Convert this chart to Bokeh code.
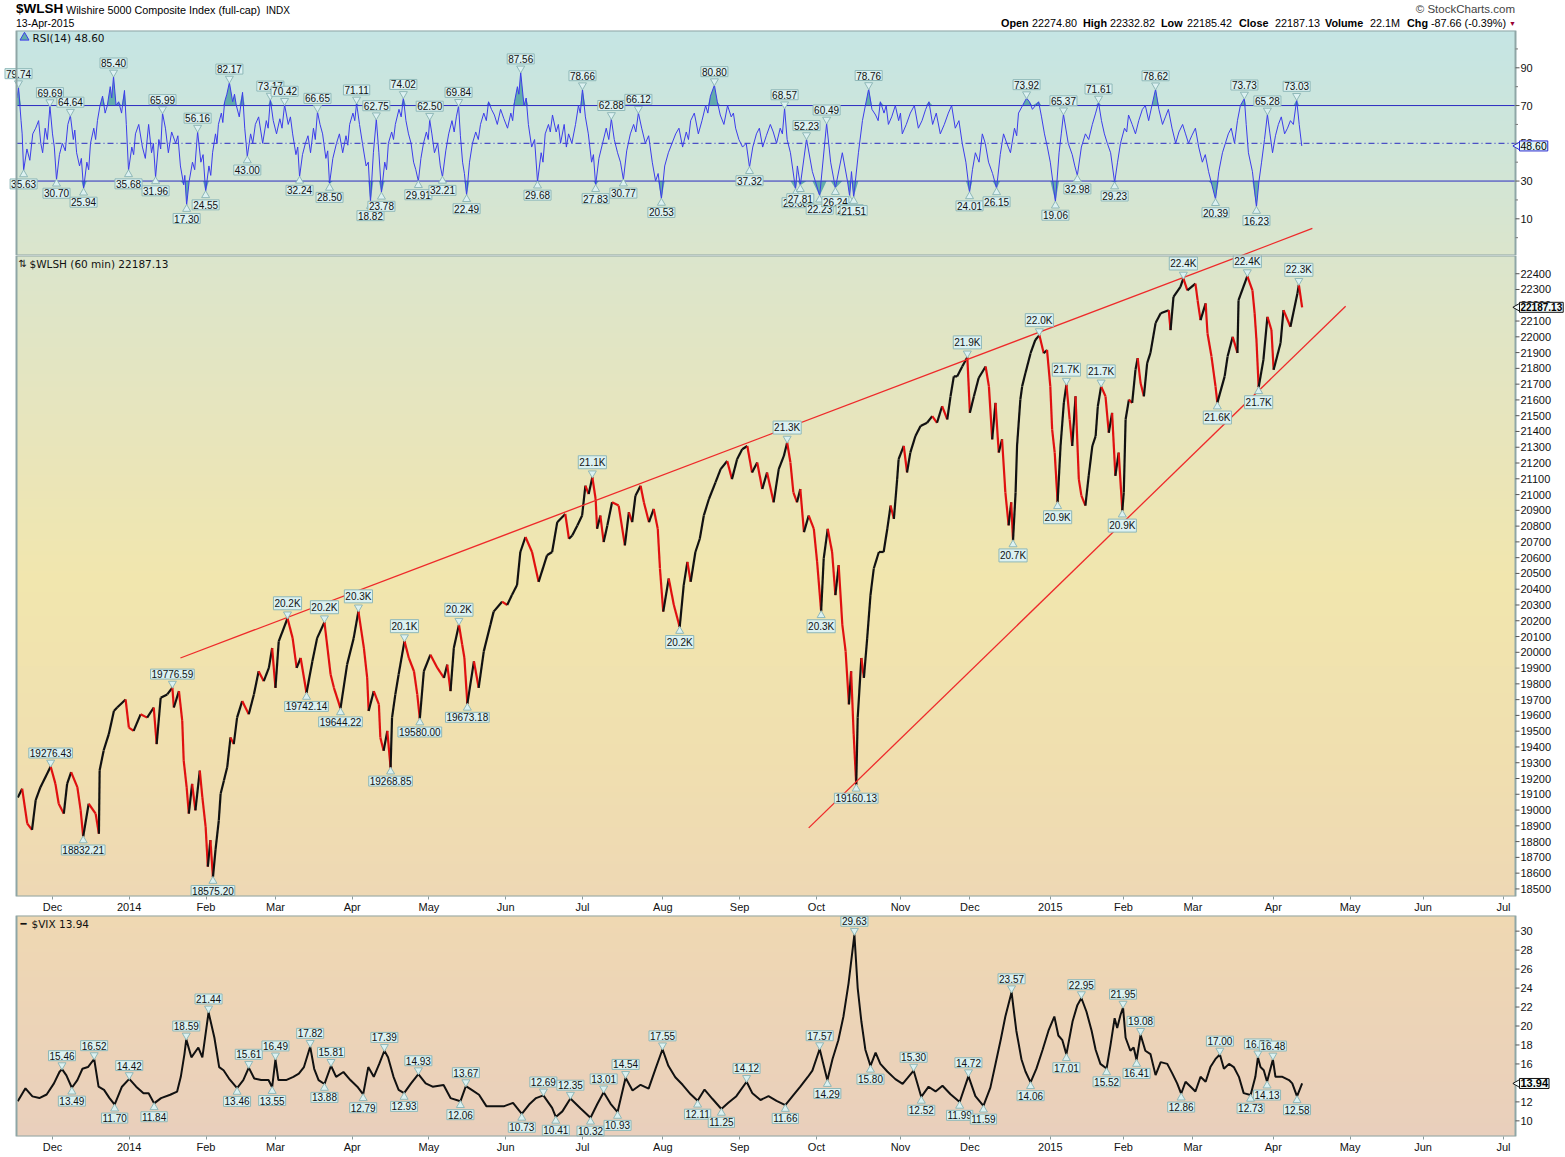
import numpy as np
import pandas as pd
from bokeh.plotting import figure
from bokeh.layouts import column
from bokeh.models import Range1d, FixedTicker, Label, Div
from bokeh.embed import file_html
from bokeh.resources import INLINE
from bokeh.core.properties import value

# ------------------------------------------------------------------ data
SESSION_START = "2013-11-18"          # trading-day 0
HOLIDAYS = ["2013-11-28", "2013-12-25", "2014-01-01", "2014-01-20", "2014-02-17",
            "2014-04-18", "2014-05-26", "2014-07-04", "2014-09-01", "2014-11-27",
            "2014-12-25", "2015-01-01", "2015-01-19", "2015-02-16", "2015-04-03",
            "2015-05-25", "2015-07-03"]
MONTH_STARTS = ["2013-12-01", "2014-01-01", "2014-02-01", "2014-03-01", "2014-04-01",
                "2014-05-01", "2014-06-01", "2014-07-01", "2014-08-01", "2014-09-01",
                "2014-10-01", "2014-11-01", "2014-12-01", "2015-01-01", "2015-02-01",
                "2015-03-01", "2015-04-01", "2015-05-01", "2015-06-01", "2015-07-01"]
MONTH_LABELS = ["Dec", "2014", "Feb", "Mar", "Apr", "May", "Jun", "Jul", "Aug", "Sep",
                "Oct", "Nov", "Dec", "2015", "Feb", "Mar", "Apr", "May", "Jun", "Jul"]

RSI_TICKS = [10, 30, 50, 70, 90]
RSI_MINOR = [0, 20, 40, 60, 80, 100]
PRICE_TICKS = list(range(18500, 22401, 100))
VIX_TICKS = list(range(10, 31, 2))

# $WLSH 60-min path (trading days since SESSION_START, index level)
price_t = [-0.5, 0.7, 2.1, 3.4, 4.4, 5.7, 8.5, 9.8, 10.7, 12.1,
           13.0, 14.1, 15.8, 16.7, 17.4, 18.9, 20.8, 21.7, 21.9, 23.0,
           24.4, 25.8, 26.7, 29.0, 29.9, 31.2, 33.1, 34.9, 36.7, 37.5,
           38.6, 40.4, 41.8, 42.2, 43.6, 44.5, 44.9, 45.7, 46.3, 47.2,
           48.1, 49.3, 50.0, 50.9, 51.5, 52.2, 52.9, 53.6, 54.5, 55.0,
           55.9, 56.8, 57.7, 58.6, 59.5, 60.9, 62.7, 64.1, 65.4, 66.8,
           68.2, 69.1, 70.0, 70.9, 73.3, 74.7, 75.8, 76.9, 78.5, 80.1,
           81.4, 83.4, 85.1, 86.0, 87.8, 89.6, 91.4, 92.7, 94.2, 95.1,
           95.5, 96.9, 98.3, 98.7, 99.6, 100.6, 101.5, 101.9, 102.8, 103.7,
           105.3, 106.5, 107.9, 108.8, 109.5, 110.6, 112.4, 114.3, 116.1, 117.0,
           117.9, 118.8, 120.2, 121.1, 121.7, 122.5, 124.3, 125.6, 127.0, 128.8,
           129.7, 132.0, 133.4, 134.7, 136.1, 137.0, 138.4, 140.2, 142.0, 144.3,
           145.7, 147.1, 149.3, 150.3, 151.2, 152.6, 153.9, 154.8, 155.7, 156.7,
           157.6, 158.0, 158.9, 159.8, 160.8, 162.1, 163.9, 165.6, 166.7, 167.6,
           168.5, 169.9, 170.8, 172.2, 173.5, 174.6, 175.2, 176.1, 177.6, 179.0,
           180.6, 181.7, 182.7, 183.6, 184.9, 186.1, 187.2, 188.6, 190.4, 191.8,
           193.6, 194.9, 196.3, 197.7, 199.1, 200.4, 201.8, 203.2, 204.5, 206.3,
           207.7, 209.1, 210.0, 210.9, 211.7, 212.7, 213.6, 214.6, 215.9, 217.3,
           218.2, 219.3, 220.0, 221.1, 222.3, 223.2, 224.1, 225.1, 226.0, 226.9,
           227.5, 228.2, 228.9, 229.3, 230.3, 231.0, 231.9, 232.8, 233.7, 235.1,
           236.4, 237.4, 238.3, 239.2, 240.1, 240.5, 241.9, 242.8, 243.7, 245.1,
           246.5, 248.3, 249.7, 251.0, 252.4, 253.8, 254.7, 255.6, 256.5, 257.9,
           259.3, 260.0, 261.1, 262.4, 264.3, 265.2, 266.1, 267.0, 267.9, 268.8,
           269.7, 270.6, 271.3, 271.8, 272.5, 272.9, 273.8, 274.3, 275.2, 276.6,
           277.9, 279.0, 280.2, 281.1, 282.0, 282.5, 283.2, 284.0, 284.8, 285.7,
           286.4, 287.3, 288.0, 288.9, 289.8, 290.5, 291.6, 292.5, 293.5, 294.4,
           295.0, 295.9, 297.1, 298.0, 298.9, 299.8, 300.7, 301.7, 302.1, 302.6,
           303.5, 304.4, 305.3, 305.9, 306.7, 307.6, 308.5, 309.4, 310.8, 312.2,
           314.4, 314.9, 315.7, 317.6, 318.4, 319.5, 321.7, 322.3, 323.1, 324.5,
           325.0, 326.1, 327.2, 327.7, 329.7, 330.5, 331.9, 333.2, 333.5, 335.9,
           337.3, 337.9, 338.4, 339.0, 340.3, 341.4, 342.5, 343.1, 345.0, 345.8,
           347.7, 349.6, 350.0, 350.9]
price_v = [19080, 19135, 18914, 18874, 19063, 19145, 19276.43, 19166, 19040, 18977,
           19166, 19240, 19145, 19000, 18832.21, 19040, 18977, 18850, 19252, 19378,
           19481, 19628, 19650, 19701, 19523, 19502, 19607, 19586, 19650, 19418,
           19712, 19733, 19776.59, 19650, 19754, 19565, 19313, 19145, 18977, 19166,
           18998, 19250, 19082, 18893, 18641, 18809, 18575.20, 18748, 18935, 19103,
           19187, 19271, 19460, 19418, 19586, 19691, 19607, 19733, 19880, 19817,
           19901, 20027, 19775, 20069, 20216, 20090, 19901, 19964, 19742.14, 19943,
           20090, 20191, 19859, 19775, 19644.22, 19922, 20090, 20260, 20027, 19838,
           19628, 19754, 19670, 19460, 19376, 19502, 19268.85, 19586, 19733, 19859,
           20071, 19964, 19880, 19733, 19580.00, 19880, 19985, 19901, 19838, 19922,
           19754, 20027, 20175, 20048, 19964, 19673.18, 19943, 19775, 20006, 20174,
           20258, 20321, 20300, 20363, 20426, 20636, 20731, 20636, 20447, 20615,
           20636, 20825, 20877, 20720, 20741, 20804, 20867, 21056, 21003, 21110,
           20972, 20783, 20867, 20699, 20804, 20951, 20930, 20678, 20888, 20825,
           20993, 21056, 20951, 20825, 20909, 20783, 20531, 20258, 20468, 20300,
           20160, 20426, 20573, 20447, 20636, 20720, 20867, 20972, 21077, 21161,
           21213, 21098, 21224, 21287, 21308, 21140, 21203, 21035, 21140, 20951,
           21161, 21245, 21330, 21203, 21014, 20951, 21035, 20762, 20867, 20783,
           20573, 20260, 20594, 20783, 20636, 20363, 20552, 20174, 20006, 19670,
           19880, 19481, 19160.13, 19586, 19964, 19838, 20090, 20363, 20531, 20636,
           20636, 20783, 20930, 20846, 21098, 21224, 21308, 21140, 21266, 21371,
           21434, 21455, 21497, 21455, 21560, 21476, 21623, 21749, 21749, 21812,
           21870, 21518, 21623, 21739, 21812, 21686, 21350, 21581, 21266, 21350,
           21014, 20804, 20951, 20709, 21014, 21308, 21602, 21686, 21770, 21896,
           21980, 22011, 21896, 21917, 21686, 21413, 21266, 20951, 21308, 21581,
           21697, 21476, 21308, 21623, 21098, 20993, 20930, 21119, 21308, 21371,
           21560, 21686, 21623, 21392, 21518, 21119, 21266, 20898, 21014, 21476,
           21602, 21581, 21791, 21865, 21707, 21623, 21833, 21898, 22087, 22150,
           22169, 22043, 22253, 22316, 22370, 22295, 22337, 22232, 22106, 22212,
           22023, 21875, 21686, 21583, 21749, 21875, 22000, 21898, 22232, 22385,
           22295, 22150, 21980, 21680, 21854, 22127, 22043, 21791, 21961, 22169,
           22064, 22274, 22330, 22187.13]

price_lbl_t = [8.5, 17.4, 41.8, 52.9, 73.3, 78.5, 83.4, 87.8, 92.7, 101.5, 105.3, 109.5,
               120.2, 122.5, 156.7, 180.6, 210.0, 219.3, 228.9, 259.3, 271.8, 279.0, 284.0,
               286.4, 295.9, 301.7, 318.4, 327.7, 335.9, 339.0, 350.0]
price_lbl_v = [19276.43, 18832.21, 19776.59, 18575.20, 20216, 19742.14, 20191, 19644.22,
               20260, 19268.85, 20071, 19580.00, 20175, 19673.18, 21110, 20160, 21330,
               20260, 19160.13, 21870, 20709, 22011, 20951, 21697, 21686, 20898, 22370,
               21583, 22385, 21680, 22330]
price_lbl_text = ["19276.43", "18832.21", "19776.59", "18575.20", "20.2K", "19742.14",
                  "20.2K", "19644.22", "20.3K", "19268.85", "20.1K", "19580.00", "20.2K",
                  "19673.18", "21.1K", "20.2K", "21.3K", "20.3K", "19160.13", "21.9K",
                  "20.7K", "22.0K", "20.9K", "21.7K", "21.7K", "20.9K", "22.4K", "21.6K",
                  "22.4K", "21.7K", "22.3K"]
price_lbl_side = ["u", "d", "u", "d", "u", "d", "u", "d", "u", "d", "u", "d", "u", "d",
                  "u", "d", "u", "d", "d", "u", "d", "u", "d", "u", "u", "d", "u", "d",
                  "u", "d", "u"]

# wedge trend lines (trading day, index level)
upper_t = [44.0, 353.7]
upper_v = [19964, 22686]
lower_t = [215.9, 362.8]
lower_v = [18887, 22194]

# RSI(14) on 60-min bars: swing points ...
rsi_t = [-0.7, -0.3, 1.1, 4.4, 6.3, 8.3, 10.1, 11.7, 13.9, 15.6,
         17.5, 19.4, 21.3, 22.7, 24.0, 25.7, 27.1, 28.7, 29.8, 31.7,
         33.6, 35.3, 37.2, 39.1, 40.7, 42.7, 44.0, 45.7, 47.3, 48.7,
         50.9, 52.8, 54.4, 56.1, 57.4, 59.3, 61.0, 62.3, 64.5, 66.5,
         68.6, 70.3, 72.5, 74.7, 76.6, 78.2, 79.6, 81.5, 82.9, 84.8,
         86.7, 88.4, 90.3, 92.2, 93.8, 96.0, 97.6, 99.0, 100.9, 102.8,
         105.0, 106.4, 107.8, 109.1, 110.5, 112.2, 113.5, 115.7, 117.4, 120.1,
         121.2, 122.3, 123.9, 126.1, 128.3, 129.9, 131.6, 133.5, 135.4, 137.1,
         139.2, 141.7, 143.8, 145.8, 148.0, 150.2, 152.1, 154.0, 155.6, 157.6,
         159.5, 161.9, 163.6, 165.2, 167.1, 169.3, 171.2, 173.1, 175.6, 177.5,
         179.5, 181.4, 183.6, 185.7, 187.7, 189.0, 190.1, 191.7, 193.7, 195.9,
         197.8, 199.7, 201.6, 203.3, 205.4, 207.1, 209.3, 210.9, 212.3, 212.8,
         213.6, 215.3, 216.9, 218.9, 220.8, 221.9, 223.2, 225.1, 226.5, 227.1,
         227.6, 228.2, 229.5, 230.6, 232.3, 234.2, 235.5, 237.7, 239.6, 241.5,
         243.7, 245.9, 247.9, 249.8, 251.9, 254.1, 256.0, 257.9, 259.9, 261.5,
         263.4, 265.1, 267.3, 269.2, 271.1, 273.3, 275.5, 277.1, 278.8, 280.4,
         282.0, 283.4, 285.6, 286.9, 289.4, 291.6, 293.5, 295.2, 296.8, 298.5,
         299.6, 301.2, 303.4, 305.3, 307.2, 308.9, 310.8, 312.7, 314.3, 316.3,
         318.2, 319.8, 321.7, 323.6, 325.3, 327.2, 329.1, 330.7, 332.4, 334.0,
         335.1, 336.2, 337.3, 338.4, 339.8, 341.4, 342.8, 344.4, 346.1, 347.7,
         349.4, 350.8]
rsi_v = [74, 79.74, 35.63, 58, 45, 69.69, 30.70, 50, 64.64, 45,
         25.94, 50, 62, 75, 70, 85.40, 72, 78, 35.68, 55,
         48, 60, 31.96, 65.99, 45, 50, 38, 17.30, 40, 56.16,
         24.55, 45, 60, 72, 82.17, 70, 77, 43.00, 60, 50,
         73.17, 55, 70.42, 55, 32.24, 50, 45, 66.65, 55, 28.50,
         50, 45, 60, 71.11, 50, 18.82, 62.75, 23.78, 50, 60,
         74.02, 55, 40, 29.91, 50, 62.50, 45, 32.21, 55, 69.84,
         40, 22.49, 50, 60, 72, 65, 68, 58, 72, 87.56,
         60, 29.68, 55, 65, 50, 55, 60, 78.66, 55, 27.83,
         50, 62.88, 45, 30.77, 55, 66.12, 50, 40, 20.53, 45,
         55, 48, 62, 55, 70, 75, 80.80, 65, 70, 58,
         48, 37.32, 55, 48, 60, 50, 68.57, 45, 25.68, 38,
         27.81, 52.23, 35, 22.23, 60.49, 40, 26.24, 45, 30, 21.98,
         35, 21.51, 45, 62, 78.76, 65, 72, 60, 70, 55,
         66, 58, 68, 60, 55, 66, 58, 50, 24.01, 45,
         55, 40, 26.15, 55, 45, 66, 73.92, 68, 72, 55,
         40, 19.06, 65.37, 50, 32.98, 55, 60, 71.61, 55, 45,
         29.23, 50, 65, 55, 68, 62, 78.62, 60, 68, 50,
         60, 50, 58, 40, 35, 20.39, 45, 55, 50, 70,
         73.73, 45, 35, 16.23, 40, 65.28, 45, 60, 55, 62,
         73.03, 48.60]
# ... and the smaller back-and-forth readings between them
rsi_fine_t = [0.4, 0.7, 2.0, 2.8, 3.6, 5.2, 5.8, 7.0, 7.6, 9.0,
              9.5, 10.9, 12.5, 13.2, 14.7, 15.1, 16.4, 16.9, 18.4, 18.9,
              20.3, 20.8, 22.0, 23.4, 24.8, 25.2, 26.4, 27.9, 29.2, 30.7,
              31.2, 32.6, 34.4, 36.1, 36.6, 38.1, 38.6, 39.9, 41.6, 43.3,
              44.9, 45.2, 46.4, 47.9, 49.6, 50.2, 51.8, 52.3, 53.6, 54.0,
              55.2, 55.6, 56.7, 58.3, 58.8, 60.1, 61.6, 63.2, 63.8, 65.4,
              67.5, 68.0, 69.4, 71.2, 71.8, 73.5, 74.1, 75.6, 76.1, 77.4,
              78.9, 80.4, 80.9, 82.2, 83.8, 84.3, 85.7, 87.5, 89.3, 89.8,
              91.2, 91.7, 93.0, 94.8, 95.4, 96.8, 98.3, 99.9, 100.4, 101.8,
              102.3, 103.8, 104.4, 105.7, 107.1, 108.4, 109.8, 111.3, 111.8, 112.8,
              114.4, 115.1, 116.6, 118.3, 118.9, 119.5, 120.6, 121.7, 123.1, 124.8,
              125.5, 127.0, 127.7, 129.1, 130.7, 132.5, 134.4, 134.9, 136.2, 136.6,
              138.0, 138.6, 140.1, 140.9, 142.7, 143.2, 144.7, 145.2, 146.8, 147.4,
              149.0, 149.6, 151.1, 152.9, 153.4, 154.8, 156.5, 157.0, 158.5, 160.5,
              161.2, 162.7, 164.4, 166.1, 168.0, 168.6, 170.2, 172.1, 174.0, 174.7,
              176.5, 178.5, 180.4, 182.4, 183.0, 184.6, 186.7, 188.3, 190.9, 192.7,
              194.7, 195.3, 196.8, 198.8, 200.6, 202.4, 204.3, 206.2, 208.1, 208.7,
              210.0, 231.4, 233.2, 234.9, 236.5, 237.1, 238.6, 240.5, 241.0, 242.6,
              244.8, 246.9, 248.8, 250.8, 253.0, 255.0, 257.0, 258.9, 260.7, 262.5,
              264.2, 266.2, 268.3, 270.1, 272.2, 272.8, 274.4, 276.3, 279.6, 281.2,
              284.4, 285.0, 288.0, 288.7, 290.5, 292.5, 294.4, 296.0, 297.6, 300.4,
              302.3, 302.9, 304.4, 306.2, 308.0, 309.8, 311.7, 313.5, 315.3, 317.2,
              319.0, 320.7, 322.6, 324.4, 326.2, 328.1, 329.9, 331.5, 333.2, 335.6,
              339.1, 340.6, 342.1, 343.6, 345.2, 346.9, 348.5, 350.1]
rsi_fine_v = [62, 55, 47, 41, 55, 62, 50, 58, 52, 55,
              48, 44, 46, 60, 52, 57, 38, 42, 40, 36,
              58, 52, 70, 66, 80, 74, 70, 66, 60, 48,
              44, 60, 42, 45, 50, 52, 47, 58, 56, 54,
              28, 33, 30, 36, 40, 44, 38, 33, 55, 50,
              66, 61, 76, 72, 76, 64, 58, 55, 50, 64,
              62, 58, 62, 63, 58, 60, 64, 44, 48, 44,
              54, 58, 52, 60, 42, 46, 42, 55, 54, 49,
              66, 62, 60, 38, 40, 45, 45, 40, 36, 56,
              52, 68, 64, 62, 50, 36, 42, 56, 52, 55,
              50, 38, 46, 62, 56, 64, 54, 34, 40, 56,
              52, 66, 62, 68, 60, 63, 66, 62, 80, 76,
              70, 74, 48, 52, 45, 40, 60, 56, 56, 60,
              60, 48, 50, 70, 66, 64, 40, 44, 42, 58,
              52, 52, 40, 46, 60, 56, 58, 54, 30, 34,
              38, 50, 58, 56, 52, 66, 62, 66, 72, 60,
              64, 66, 52, 50, 48, 58, 54, 56, 58, 55,
              52, 70, 68, 62, 66, 70, 64, 62, 66, 60,
              70, 62, 72, 66, 60, 70, 62, 40, 36, 40,
              50, 34, 44, 50, 58, 54, 70, 72, 64, 48,
              45, 55, 44, 38, 48, 52, 66, 62, 50, 40,
              58, 56, 60, 62, 70, 70, 68, 64, 58, 56,
              55, 54, 48, 44, 28, 35, 50, 58, 62, 60,
              30, 52, 55, 54, 64, 58, 60, 60]
rsi_peak_t = [-0.3, 8.3, 13.9, 25.7, 39.1, 48.7, 57.4, 68.6, 72.5, 81.5, 92.2, 97.6,
              105.0, 112.2, 120.1, 137.1, 154.0, 161.9, 169.3, 190.1, 209.3, 215.3, 220.8,
              232.3, 275.5, 285.6, 295.2, 310.8, 335.1, 341.4, 349.4]
rsi_peak_v = [79.74, 69.69, 64.64, 85.40, 65.99, 56.16, 82.17, 73.17, 70.42, 66.65, 71.11,
              62.75, 74.02, 62.50, 69.84, 87.56, 78.66, 62.88, 66.12, 80.80, 68.57, 52.23,
              60.49, 78.76, 73.92, 65.37, 71.61, 78.62, 73.73, 65.28, 73.03]
rsi_trough_t = [1.1, 10.1, 17.5, 29.8, 37.2, 45.7, 50.9, 62.3, 76.6, 84.8, 96.0, 99.0,
                109.1, 115.7, 122.3, 141.7, 157.6, 165.2, 175.6, 199.7, 212.3, 213.6, 218.9,
                223.2, 227.1, 228.2, 259.9, 267.3, 283.4, 289.4, 299.6, 327.2, 338.4]
rsi_trough_v = [35.63, 30.70, 25.94, 35.68, 31.96, 17.30, 24.55, 43.00, 32.24, 28.50, 18.82,
                23.78, 29.91, 32.21, 22.49, 29.68, 27.83, 30.77, 20.53, 37.32, 25.68, 27.81,
                22.23, 26.24, 21.98, 21.51, 24.01, 26.15, 19.06, 32.98, 29.23, 20.39, 16.23]

# $VIX
vix_t = [-0.5, 1.6, 3.5, 5.4, 7.4, 9.4, 10.9, 11.6, 12.8, 14.3,
         15.8, 17.2, 18.7, 20.4, 21.6, 23.1, 24.6, 26.0, 28.0, 30.0,
         31.9, 33.9, 35.3, 36.8, 38.7, 41.2, 43.1, 44.1, 45.1, 45.6,
         47.0, 48.9, 50.0, 51.7, 53.3, 54.6, 55.8, 57.3, 59.5, 61.2,
         62.7, 64.2, 66.1, 68.1, 69.1, 70.0, 70.8, 72.9, 74.9, 76.4,
         77.8, 79.5, 80.6, 81.8, 83.4, 85.2, 86.6, 88.6, 90.5, 92.4,
         94.0, 95.4, 96.9, 98.4, 99.8, 100.8, 102.3, 103.7, 105.2, 107.1,
         109.1, 111.1, 113.0, 116.0, 117.9, 120.6, 122.1, 123.7, 125.7, 127.7,
         130.1, 132.6, 135.0, 137.4, 139.4, 141.3, 143.3, 145.7, 146.7, 148.5,
         150.7, 153.5, 156.2, 158.1, 159.8, 161.7, 163.6, 165.8, 167.7, 169.9,
         172.1, 174.0, 175.9, 177.5, 179.4, 181.4, 183.6, 185.5, 187.4, 189.6,
         192.0, 193.9, 196.1, 198.9, 200.5, 202.7, 204.9, 207.1, 209.5, 211.7,
         213.6, 215.6, 216.9, 218.9, 221.0, 222.4, 224.0, 225.4, 226.8, 228.4,
         229.3, 230.3, 231.4, 232.8, 234.2, 235.5, 237.4, 239.6, 241.6, 242.9,
         244.6, 246.7, 248.7, 250.6, 252.5, 254.7, 257.2, 259.6, 261.5, 263.7,
         265.6, 267.0, 268.4, 269.7, 271.4, 272.7, 274.1, 275.2, 276.6, 278.2,
         279.9, 281.5, 283.1, 284.2, 285.3, 286.4, 288.1, 289.4, 290.5, 291.9,
         293.3, 294.4, 295.7, 297.4, 298.5, 299.6, 300.3, 301.2, 301.9, 302.6,
         303.9, 304.8, 305.6, 306.7, 308.0, 309.4, 310.8, 312.2, 314.0, 315.4,
         316.7, 317.8, 319.0, 320.4, 321.7, 323.1, 324.5, 325.8, 327.2, 328.4,
         329.5, 330.9, 332.2, 333.6, 334.9, 336.8, 338.1, 338.8, 339.5, 340.4,
         341.3, 342.9, 343.6, 345.5, 347.3, 348.2, 349.5, 350.9]
vix_v = [12.06, 13.43, 12.58, 12.40, 12.78, 13.95, 15.15, 15.46, 14.80, 13.49,
         14.30, 15.49, 15.67, 16.52, 13.60, 13.27, 12.40, 11.70, 13.60, 14.42,
         13.60, 12.92, 12.92, 11.84, 12.40, 12.75, 13.09, 14.64, 17.04, 18.59,
         16.70, 17.73, 16.70, 21.44, 18.76, 15.67, 15.33, 14.46, 13.46, 14.30,
         15.61, 14.46, 14.30, 14.30, 13.55, 16.49, 14.30, 14.30, 14.64, 14.98,
         15.67, 17.82, 15.49, 14.30, 13.88, 15.81, 14.64, 15.15, 14.30, 13.60,
         12.79, 15.67, 14.64, 16.00, 17.39, 16.70, 14.64, 13.27, 12.93, 13.95,
         14.93, 13.95, 13.60, 13.78, 12.40, 12.06, 13.67, 13.27, 12.75, 11.55,
         11.55, 11.55, 11.89, 10.73, 11.72, 12.40, 12.69, 11.37, 10.41, 11.00,
         12.35, 11.30, 10.32, 11.80, 13.01, 11.80, 10.93, 14.54, 13.20, 13.80,
         13.40, 15.50, 17.55, 15.80, 14.60, 13.80, 12.80, 12.11, 13.30, 12.30,
         11.25, 11.90, 12.60, 14.12, 12.90, 12.20, 12.60, 12.10, 11.66, 12.70,
         13.60, 14.60, 15.30, 17.57, 14.29, 16.50, 18.50, 21.00, 24.50, 29.63,
         24.00, 20.50, 17.50, 15.80, 17.20, 16.00, 15.20, 14.40, 13.90, 14.50,
         15.30, 12.52, 13.60, 13.10, 13.70, 12.80, 11.99, 14.72, 12.60, 11.59,
         13.50, 16.00, 18.50, 21.00, 23.57, 19.50, 16.50, 15.20, 14.06, 15.50,
         17.50, 19.50, 21.00, 19.00, 18.50, 17.01, 20.50, 22.20, 22.95, 21.50,
         19.50, 17.50, 16.01, 15.52, 18.07, 20.82, 19.79, 21.16, 21.95, 18.76,
         17.39, 17.73, 16.41, 19.08, 17.39, 17.04, 14.82, 16.19, 16.01, 14.98,
         13.95, 12.86, 14.12, 13.60, 13.09, 14.64, 14.12, 15.67, 16.53, 17.00,
         15.49, 16.01, 15.67, 14.64, 12.92, 12.73, 14.64, 16.70, 15.67, 15.33,
         14.13, 16.48, 14.64, 14.64, 14.30, 13.95, 12.58, 13.94]
vix_peak_t = [11.6, 20.4, 30.0, 45.6, 51.7, 62.7, 70.0, 79.5, 85.2, 99.8, 109.1, 122.1,
              143.3, 150.7, 159.8, 165.8, 175.9, 198.9, 218.9, 228.4, 244.6, 259.6, 271.4,
              290.5, 301.9, 306.7, 328.4, 338.8, 342.9]
vix_peak_v = [15.46, 16.52, 14.42, 18.59, 21.44, 15.61, 16.49, 17.82, 15.81, 17.39, 14.93,
              13.67, 12.69, 12.35, 13.01, 14.54, 17.55, 14.12, 17.57, 29.63, 15.30, 14.72,
              23.57, 22.95, 21.95, 19.08, 17.00, 16.70, 16.48]
vix_trough_t = [14.3, 26.0, 36.8, 59.5, 69.1, 83.4, 94.0, 105.2, 120.6, 137.4, 146.7, 156.2,
                163.6, 185.5, 192.0, 209.5, 221.0, 232.8, 246.7, 257.2, 263.7, 276.6, 286.4,
                297.4, 305.6, 317.8, 336.8, 341.3, 349.5]
vix_trough_v = [13.49, 11.70, 11.84, 13.46, 13.55, 13.88, 12.79, 12.93, 12.06, 10.73, 10.41,
                10.32, 10.93, 12.11, 11.25, 11.66, 14.29, 15.80, 12.52, 11.99, 11.59, 14.06,
                17.01, 15.52, 16.41, 12.86, 12.73, 14.13, 12.58]

# ------------------------------------------------------------------ layout / style
W = 1565
PX_PER_DAY = 3.655
PX_AT_T0 = 19.1


def px2t(px):
    """page pixel column -> trading-day coordinate (for layout of texts/frames)"""
    return (px - PX_AT_T0) / PX_PER_DAY


TPX = 1.0 / PX_PER_DAY
X_LEFT, X_RIGHT = px2t(0), px2t(W)        # full canvas
XP0, XP1 = px2t(16), px2t(1515)            # chart panel edges

RSI_LO, RSI_HI = -9.44, 109.76
P_LO, P_HI = 18452.0, 22515.5
V_LO, V_HI = 8.35, 31.65
H_HEAD, H_RSI, H_MAIN, H_VIX, BOT = 30, 225, 645, 225, 15
FONT = "Liberation Sans"
LBL_FILL, LBL_LINE = "#dcf1f1", "#8fb8b8"
OUTLINE = "#8fa6a6"

GRAD_Y = [30, 150, 255, 420, 580, 760, 900, 915, 1141]
GRAD_C = [(197, 229, 228), (207, 229, 216), (219, 229, 204), (231, 229, 189),
          (241, 230, 174), (240, 223, 175), (238, 216, 180), (239, 216, 178),
          (233, 207, 188)]

sessions = pd.bdate_range(SESSION_START, "2015-07-31", freq="C", holidays=HOLIDAYS)
month_idx = [int(sessions.searchsorted(pd.Timestamp(m))) for m in MONTH_STARTS]
x_range = Range1d(X_LEFT, X_RIGHT)


def make_fig(frame_h, y_lo, y_hi, with_x):
    f = figure(width=W, height=frame_h + (BOT if with_x else 0), x_range=x_range,
               y_range=Range1d(y_lo, y_hi), output_backend="svg", toolbar_location=None,
               x_axis_location="below" if with_x else None, y_axis_location=None,
               min_border_left=0, min_border_right=0, min_border_top=0,
               min_border_bottom=BOT if with_x else 0)
    f.xgrid.visible = False
    f.ygrid.visible = False
    f.outline_line_color = None
    f.border_fill_color = "white"
    f.background_fill_color = "white"
    if with_x:
        xa = f.xaxis[0]
        xa.ticker = FixedTicker(ticks=month_idx)
        xa.major_label_overrides = {i: s for i, s in zip(month_idx, MONTH_LABELS)}
        xa.major_label_text_font = FONT
        xa.major_label_text_font_size = "11px"
        xa.major_label_text_color = "#111111"
        xa.major_tick_in = 0
        xa.major_tick_out = 3
        xa.minor_tick_out = 0
        xa.minor_tick_in = 0
        xa.major_label_standoff = 1
        xa.axis_line_color = None
        xa.major_tick_line_color = "#8a9a9a"
    return f


def panel_background(f, y_lo, y_hi, ref_top, ref_bot, n=240):
    rows = np.linspace(ref_bot, ref_top, n)
    c = np.array(GRAD_C, dtype=float)
    img = np.zeros((n, 2), dtype=np.uint32)
    view = img.view(dtype=np.uint8).reshape((n, 2, 4))
    for k in range(3):
        view[:, :, k] = np.interp(rows, GRAD_Y, c[:, k]).round().astype(np.uint8)[:, None]
    view[:, :, 3] = 255
    f.image_rgba(image=[img], x=XP0, y=y_lo, dw=XP1 - XP0, dh=y_hi - y_lo, level="image")


def panel_frame(f, y_lo, y_hi):
    f.quad(left=[XP0], right=[XP1], bottom=[y_lo], top=[y_hi], fill_color=None,
           line_color=OUTLINE, line_width=2)


def right_axis(f, ticks, minor=(), size="11px"):
    n = len(ticks)
    f.segment(x0=[XP1] * n, y0=ticks, x1=[XP1 + 4 * TPX] * n, y1=ticks,
              line_color="#555555", line_width=1)
    if minor:
        m = len(minor)
        f.segment(x0=[XP1] * m, y0=list(minor), x1=[XP1 + 2.5 * TPX] * m, y1=list(minor),
                  line_color="#777777", line_width=1)
    f.text(x=[XP1 + 5 * TPX] * n, y=ticks, text=[str(t) for t in ticks],
           text_font=value(FONT), text_font_size=size, text_color="#111111",
           text_align="left", text_baseline="middle")


def value_box(f, v, s, border, fill, bold, size):
    f.scatter([XP1 + 2.0 * TPX], [v], marker="triangle", angle=np.pi / 2, size=8,
              fill_color=fill, line_color=border, line_width=1)
    f.text(x=[XP1 + 4.0 * TPX], y=[v], text=[s], text_font=value(FONT),
           text_font_size=size, text_font_style="bold" if bold else "normal",
           text_color="#000000", text_align="left", text_baseline="middle",
           background_fill_color=fill, border_line_color=border, border_line_width=1,
           padding=1)


def point_labels(f, ts, vs, texts, up, upp):
    if not ts:
        return
    if up:
        ty = [v + 8.5 * upp for v in vs]
        my = [v + 4.0 * upp for v in vs]
        base, marker = "bottom", "inverted_triangle"
    else:
        ty = [v - 8.5 * upp for v in vs]
        my = [v - 4.0 * upp for v in vs]
        base, marker = "top", "triangle"
    f.scatter(ts, my, marker=marker, size=8, fill_color=LBL_FILL, line_color=LBL_LINE,
              line_width=1)
    f.text(ts, ty, text=texts, text_font=value(FONT), text_font_size="10px",
           text_color="#111111", text_align="center", text_baseline=base,
           background_fill_color=LBL_FILL, border_line_color=LBL_LINE, padding=1)


def panel_title(f, px, y, s, yoff, size="10.5px"):
    f.add_layout(Label(x=px2t(px), y=y, y_offset=yoff, text=s, text_font="DejaVu Sans",
                       text_font_size=size, text_color="#111111", text_align="left",
                       text_baseline="middle"))


# ------------------------------------------------------------------ header (HTML text)
def hspan(x, y, s, size, bold=False, color="#000000", right=None):
    pos = f"right:{right}px;" if right is not None else f"left:{x}px;"
    w = "bold" if bold else "normal"
    return (f'<span style="position:absolute;{pos}top:{y}px;font-family:\'Liberation Sans\';'
            f'font-size:{size}px;font-weight:{w};color:{color};white-space:nowrap;'
            f'line-height:1;">{s}</span>')


head_items = [hspan(16, 2, "$WLSH", 13.5, True),
              hspan(66, 5, "Wilshire 5000 Composite Index (full-cap)", 10.8),
              hspan(266, 6, "INDX", 10),
              hspan(16, 18, "13-Apr-2015", 10.5),
              hspan(0, 4, "\u00a9 StockCharts.com", 11.5, color="#444444", right=50)]
for s, px, b in [("Open", 1001, True), ("22274.80", 1032, False), ("High", 1083, True),
                 ("22332.82", 1110, False), ("Low", 1161, True), ("22185.42", 1187, False),
                 ("Close", 1239, True), ("22187.13", 1275, False), ("Volume", 1325, True),
                 ("22.1M", 1370, False), ("Chg", 1407, True),
                 ("-87.66 (-0.39%)", 1431, False)]:
    head_items.append(hspan(px, 18, s, 10.8, b))
head_items.append(hspan(1509, 20, "\u25bc", 7, color="#990033"))
header = Div(text='<div style="position:relative;width:1565px;height:30px;">'
             + "".join(head_items) + "</div>", width=W, height=H_HEAD, margin=(0, 0, 0, 0))

# ------------------------------------------------------------------ RSI panel
f1 = make_fig(H_RSI, RSI_LO, RSI_HI, False)
panel_background(f1, RSI_LO, RSI_HI, 30, 255)
rt = np.array(rsi_t + rsi_fine_t, dtype=float)
rv = np.array(rsi_v + rsi_fine_v, dtype=float)
order = np.argsort(rt, kind="stable")
rt, rv = rt[order], rv[order]
f1.varea(x=rt, y1=np.full(len(rv), 70.0), y2=np.maximum(rv, 70.0), fill_color="#62acac")
f1.varea(x=rt, y1=np.minimum(rv, 30.0), y2=np.full(len(rv), 30.0), fill_color="#62acac")
f1.segment(x0=[XP0, XP0], y0=[70, 30], x1=[XP1, XP1], y1=[70, 30], line_color="#2b2bc0",
           line_width=1)
f1.segment(x0=[XP0], y0=[50], x1=[XP1], y1=[50], line_color="#2b2bc0", line_width=1,
           line_dash="6 3 1 3")
f1.line(rt, rv, line_color="#3c3cea", line_width=1.0)
upp_r = (RSI_HI - RSI_LO) / H_RSI
point_labels(f1, rsi_peak_t, rsi_peak_v, [f"{v:.2f}" for v in rsi_peak_v], True, upp_r)
point_labels(f1, rsi_trough_t, rsi_trough_v, [f"{v:.2f}" for v in rsi_trough_v], False, upp_r)

# extension of the upper wedge line above the price panel
slope = (upper_v[1] - upper_v[0]) / (upper_t[1] - upper_t[0])
t_cross = upper_t[0] + (P_HI - upper_v[0]) / slope
over_px = (upper_v[1] - P_HI) / (P_HI - P_LO) * H_MAIN
f1.line([t_cross, upper_t[1]], [RSI_LO, RSI_LO + over_px / H_RSI * (RSI_HI - RSI_LO)],
        line_color="#ee2a2a", line_width=1.3)
panel_frame(f1, RSI_LO, RSI_HI)
right_axis(f1, RSI_TICKS, RSI_MINOR)
value_box(f1, 48.60, "48.60", "#2b2bd0", "#e2f5f5", False, "10.5px")
panel_title(f1, 32, RSI_HI, "RSI(14) 48.60", -7)
f1.scatter([px2t(24)], [RSI_HI - 7 * upp_r], marker="triangle", size=9,
           fill_color="#62acac", line_color="#3c3cea")

# ------------------------------------------------------------------ price panel
f2 = make_fig(H_MAIN, P_LO, P_HI, True)
panel_background(f2, P_LO, P_HI, 255, 900)
pv = np.array(price_v, dtype=float)
cols = ["#111111" if b >= a else "#e01010" for a, b in zip(pv[:-1], pv[1:])]
f2.segment(x0=price_t[:-1], y0=price_v[:-1], x1=price_t[1:], y1=price_v[1:],
           line_color=cols, line_width=2.2)
f2.line(upper_t, upper_v, line_color="#ee2a2a", line_width=1.3)
f2.line(lower_t, lower_v, line_color="#ee2a2a", line_width=1.3)
upp_p = (P_HI - P_LO) / H_MAIN
up_i = [i for i, s in enumerate(price_lbl_side) if s == "u"]
dn_i = [i for i, s in enumerate(price_lbl_side) if s == "d"]
point_labels(f2, [price_lbl_t[i] for i in up_i], [price_lbl_v[i] for i in up_i],
             [price_lbl_text[i] for i in up_i], True, upp_p)
point_labels(f2, [price_lbl_t[i] for i in dn_i], [price_lbl_v[i] for i in dn_i],
             [price_lbl_text[i] for i in dn_i], False, upp_p)
panel_frame(f2, P_LO, P_HI)
right_axis(f2, PRICE_TICKS)
value_box(f2, 22187.13, "22187.13", "#111111", "#f2fbfb", True, "10px")
panel_title(f2, 29, P_HI, "$WLSH (60 min) 22187.13", -8)
panel_title(f2, 18, P_HI, "\u21c5", -8, size="10px")

# ------------------------------------------------------------------ VIX panel
f3 = make_fig(H_VIX, V_LO, V_HI, True)
panel_background(f3, V_LO, V_HI, 915, 1141)
f3.line(vix_t, vix_v, line_color="#111111", line_width=2)
upp_v = (V_HI - V_LO) / H_VIX
point_labels(f3, vix_peak_t, vix_peak_v, [f"{v:.2f}" for v in vix_peak_v], True, upp_v)
point_labels(f3, vix_trough_t, vix_trough_v, [f"{v:.2f}" for v in vix_trough_v], False, upp_v)
panel_frame(f3, V_LO, V_HI)
right_axis(f3, VIX_TICKS)
value_box(f3, 13.94, "13.94", "#111111", "#f2fbfb", True, "11px")
panel_title(f3, 20, V_HI, "\u2501", -8, size="10px")
panel_title(f3, 31, V_HI, "$VIX 13.94", -8)

page = column(header, f1, f2, f3, spacing=0)
open("out.html", "w").write(file_html(page, INLINE))
